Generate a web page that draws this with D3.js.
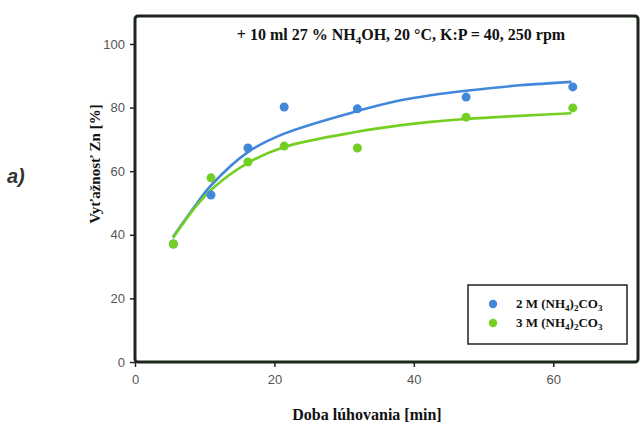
<!DOCTYPE html>
<html>
<head>
<meta charset="utf-8">
<script src="https://cdn.jsdelivr.net/npm/d3@7"></script>
<style>
  body { margin: 0; background: #fff; }
  svg { display: block; }
</style>
</head>
<body>
<svg id="chart"></svg>
<script>
const width = 642;
const height = 429;

// measured points (time in min, yield in %)
const timeBlue   = [5.5, 10.9, 16.2, 21.4, 31.9, 47.5, 62.8];
const yieldBlue  = [37.1, 52.5, 67.3, 80.2, 79.6, 83.3, 86.5];
const timeGreen  = [5.5, 10.9, 16.2, 21.4, 31.9, 47.5, 62.8];
const yieldGreen = [37.1, 57.9, 62.9, 67.9, 67.3, 77.0, 79.9];

// trend curves
const fitTime       = [5.45, 8.4, 10.9, 16.2, 21.4, 31.9, 37.95, 42.4, 47.5, 55.2, 62.6];
const fitBlueYield  = [39.3, 48.4, 55.5, 66.0, 71.8, 78.9, 82.2, 83.9, 85.3, 87.0, 88.1];
const fitGreenYield = [39.0, 48.0, 54.1, 62.6, 67.6, 72.4, 74.4, 75.5, 76.4, 77.4, 78.2];

const xTicks = [0, 20, 40, 60];
const yTicks = [0, 20, 40, 60, 80, 100];

const seriesNames = ["2 M (NH", "3 M (NH"];
const blue = "#4287da";
const green = "#74cf22";

const svg = d3.select("#chart").attr("width", width).attr("height", height);
svg.append("rect").attr("width", width).attr("height", height).attr("fill", "#fff");

const x = d3.scaleLinear().domain([0, 72.3]).range([135, 639]);
const y = d3.scaleLinear().domain([0, 108.8]).range([362, 16]);

// axes (ticks only, frame drawn separately)
const yAxis = svg.append("g")
  .attr("transform", `translate(${x(0)},0)`)
  .call(d3.axisLeft(y).tickValues(yTicks).tickSize(5).tickPadding(5));
const xAxis = svg.append("g")
  .attr("transform", `translate(0,${y(0)})`)
  .call(d3.axisBottom(x).tickValues(xTicks).tickSize(5).tickPadding(8));

[xAxis, yAxis].forEach(a => {
  a.select(".domain").remove();
  a.selectAll("line").attr("stroke", "#222").attr("stroke-width", 1.5);
  a.selectAll("text")
    .attr("fill", "#555")
    .style("font-family", "Liberation Sans, Arial, sans-serif")
    .style("font-size", "13px");
});

// frame
svg.append("rect")
  .attr("x", x(0)).attr("y", y(108.8))
  .attr("width", x(72.3) - x(0) - 1).attr("height", y(0) - y(108.8))
  .attr("rx", 3)
  .attr("fill", "none").attr("stroke", "#1c261c").attr("stroke-width", 3);

// trend curves
const lineOf = ys => d3.line()
  .x((d, i) => x(fitTime[i]))
  .y(d => y(d))
  .curve(d3.curveCatmullRom.alpha(0.5))(ys);

svg.append("path").attr("d", lineOf(fitBlueYield))
  .attr("fill", "none").attr("stroke", blue).attr("stroke-width", 2.6);
svg.append("path").attr("d", lineOf(fitGreenYield))
  .attr("fill", "none").attr("stroke", green).attr("stroke-width", 2.6);

// points
svg.append("g").selectAll("circle").data(yieldBlue).join("circle")
  .attr("cx", (d, i) => x(timeBlue[i])).attr("cy", d => y(d))
  .attr("r", 4.5).attr("fill", blue);
svg.append("g").selectAll("circle").data(yieldGreen).join("circle")
  .attr("cx", (d, i) => x(timeGreen[i])).attr("cy", d => y(d))
  .attr("r", 4.5).attr("fill", green);

// title
const serif = "Liberation Serif, Times New Roman, serif";
const title = svg.append("text")
  .attr("x", 401).attr("y", 40)
  .attr("text-anchor", "middle")
  .style("font-family", serif).style("font-weight", "bold").style("font-size", "16px")
  .attr("fill", "#111");
title.append("tspan").text("+ 10 ml 27 % NH");
title.append("tspan").attr("dy", 4).style("font-size", "11px").text("4");
title.append("tspan").attr("dy", -4).text("OH, 20 °C, K:P = 40, 250 rpm");

// axis titles
svg.append("text")
  .attr("x", 367).attr("y", 420)
  .attr("text-anchor", "middle")
  .style("font-family", serif).style("font-weight", "bold").style("font-size", "16px")
  .attr("fill", "#111")
  .text("Doba lúhovania [min]");

svg.append("text")
  .attr("transform", "translate(100,164) rotate(-90)")
  .attr("text-anchor", "middle")
  .style("font-family", serif).style("font-weight", "bold").style("font-size", "15px")
  .attr("fill", "#111")
  .text("Vyťažnosť Zn [%]");

svg.append("text")
  .attr("x", 7).attr("y", 183)
  .style("font-family", "Liberation Sans, Arial, sans-serif")
  .style("font-style", "italic").style("font-weight", "bold").style("font-size", "20px")
  .attr("fill", "#333")
  .text("a)");

// legend
const lg = svg.append("g");
lg.append("rect")
  .attr("x", 468).attr("y", 285).attr("width", 159).attr("height", 59)
  .attr("fill", "#fff").attr("stroke", "#222").attr("stroke-width", 1.5);
[blue, green].forEach((c, i) => {
  const yy = 304 + i * 19;
  lg.append("circle").attr("cx", 493).attr("cy", yy).attr("r", 4.2).attr("fill", c);
  const t = lg.append("text")
    .attr("x", 516).attr("y", yy + 4)
    .style("font-family", serif).style("font-weight", "bold").style("font-size", "13px")
    .attr("fill", "#111");
  t.append("tspan").text(seriesNames[i]);
  t.append("tspan").attr("dy", 3).style("font-size", "9px").text("4");
  t.append("tspan").attr("dy", -3).text(")");
  t.append("tspan").attr("dy", 3).style("font-size", "9px").text("2");
  t.append("tspan").attr("dy", -3).text("CO");
  t.append("tspan").attr("dy", 3).style("font-size", "9px").text("3");
});
</script>
</body>
</html>
